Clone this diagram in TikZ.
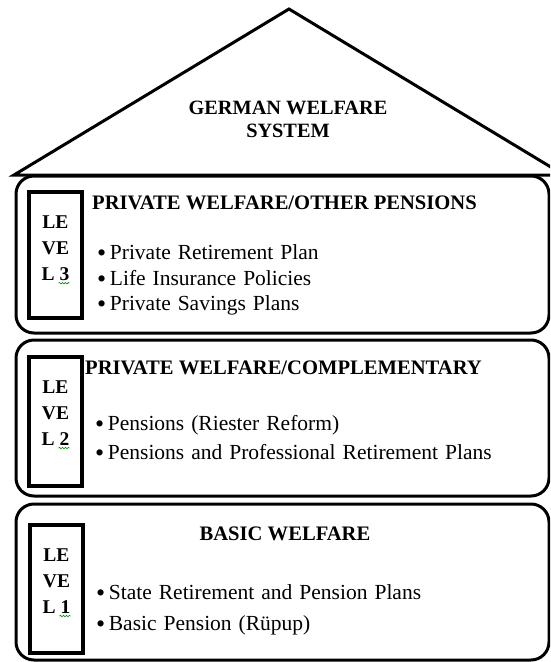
\documentclass[tikz,border=0pt]{standalone}
\usepackage{fontspec}
\setmainfont{Liberation Serif}
\usetikzlibrary{positioning, decorations.pathmorphing}

\newcommand{\itemdot}{{\fontsize{26}{26}\selectfont\lower2pt\hbox{\textbullet}}\,}
\newcommand{\itemfont}{\fontsize{21.5}{26}\selectfont\spaceskip=7pt plus 2pt\relax}

\begin{document}
\begin{tikzpicture}[
    x=1pt, y=-1pt,
    roof/.style={
        draw=black,
        line width=3pt,
        line join=miter
    },
    levelbox/.style={
        rectangle,
        draw=black,
        line width=3pt,
        rounded corners=18pt,
        minimum width=533pt,
        minimum height=157pt
    },
    tagbox/.style={
        rectangle,
        draw=black,
        line width=4pt,
        minimum width=53pt
    },
    tag/.style={
        font=\fontsize{19.5}{26}\selectfont\bfseries,
        align=center,
        inner sep=0pt
    },
    heading/.style={
        font=\fontsize{20.6}{23}\selectfont\bfseries,
        align=center,
        inner sep=0pt
    },
    item/.style={
        font=\itemfont,
        anchor=base west,
        inner sep=0pt
    },
    squiggle/.style={
        draw=green!55!black,
        line width=0.6pt,
        decorate,
        decoration={snake, amplitude=0.8pt, segment length=3pt}
    }
]
\useasboundingbox (0,0) rectangle (550,662);
\clip (0,0) rectangle (550,662);

% Roof
\coordinate (apex)  at (289,9);
\coordinate (eaveL) at (14,175);
\coordinate (eaveR) at (564,175);
\draw[roof] (eaveL) -- (apex) -- (eaveR) -- cycle;
\node[heading, font=\fontsize{20.3}{23}\selectfont\bfseries] (title) at (288,119) {GERMAN WELFARE\\SYSTEM};

% Levels
\node[levelbox] (lvl3) at (282.5,254.5) {};
\node[levelbox, minimum height=156pt] (lvl2) at (282.5,418) {};
\node[levelbox, minimum height=156pt] (lvl1) at (282.5,582) {};

% Level tags
\node[tagbox, minimum height=126pt] (box3) at (55.5,255) {};
\node[tagbox, minimum height=129pt] (box2) at (55.5,421.5) {};
\node[tagbox, minimum height=128pt] (box1) at (56.5,589) {};
\node[tag] (tag3) at (55.5,248) {LE\\VE\\L 3};
\node[tag] (tag2) at (55.5,413) {LE\\VE\\L 2};
\node[tag] (tag1) at (56.5,581) {LE\\VE\\L 1};
\foreach \t in {tag3, tag2, tag1}
    \draw[squiggle] ([xshift=3pt, yshift=-2.5pt] \t.south) -- ++(11,0);

% Level 3
\node[heading, anchor=base west] (head3) at (92,209) {PRIVATE WELFARE/OTHER PENSIONS};
\node[item] (i31) at (97,259) {\itemdot Private Retirement Plan};
\node[item] (i32) at (97,285) {\itemdot Life Insurance Policies};
\node[item] (i33) at (97,310) {\itemdot Private Savings Plans};

% Level 2
\node[heading, anchor=base west] (head2) at (85,374) {PRIVATE WELFARE/COMPLEMENTARY};
\node[item] (i21) at (95,430) {\itemdot Pensions (Riester Reform)};
\node[item] (i22) at (95,459) {\itemdot Pensions and Professional Retirement Plans};

% Level 1
\node[heading, anchor=base] (head1) at (285,540) {BASIC WELFARE};
\node[item] (i11) at (96,599) {\itemdot State Retirement and Pension Plans};
\node[item] (i12) at (96,630) {\itemdot Basic Pension (Rüpup)};

\end{tikzpicture}
\end{document}
